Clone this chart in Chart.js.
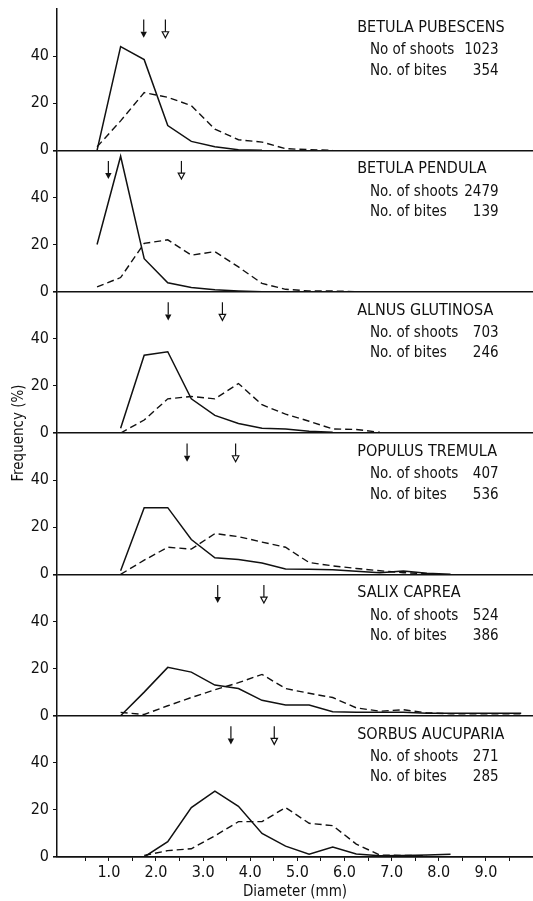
<!DOCTYPE html>
<html>
<head>
<meta charset="utf-8">
<script src="https://cdn.jsdelivr.net/npm/chart.js@4.4.0/dist/chart.umd.min.js"></script>
<style>
  body { margin: 0; background: #fff; }
  #wrap { width: 533px; height: 901px; }
</style>
</head>
<body>
<div id="wrap"><canvas id="chart" width="533" height="901"></canvas></div>
<script>
// class midpoints (mm)
const diameterMid = [0.75, 1.25, 1.75, 2.25, 2.75, 3.25, 3.75, 4.25, 4.75, 5.25,
                     5.75, 6.25, 6.75, 7.25, 7.75, 8.25, 8.75, 9.25, 9.75];

const species = ['BETULA PUBESCENS', 'BETULA PENDULA', 'ALNUS GLUTINOSA',
                 'POPULUS TREMULA', 'SALIX CAPREA', 'SORBUS AUCUPARIA'];
const shootLabels = ['No of shoots', 'No. of shoots', 'No. of shoots',
                     'No. of shoots', 'No. of shoots', 'No. of shoots'];
const nShoots = [1023, 2479, 703, 407, 524, 271];
const nBites = [354, 139, 246, 536, 386, 285];

// mean diameters (arrows)
const meanShoots = [1.74, 0.99, 2.26, 2.66, 3.31, 3.59];
const meanBites = [2.20, 2.54, 3.41, 3.69, 4.29, 4.51];

// frequency (%) per class, solid line = shoots, dashed line = bites
const shoots1 = [0, 44, 38.5, 10.5, 3.8, 1.5, 0.3, 0];
const bites1  = [1.5, 12.5, 24.5, 22.5, 19, 9, 4.5, 3.5, 0.7, 0.3, 0];
const shoots2 = [20, 57.5, 14, 3.8, 1.8, 0.8, 0.3, 0];
const bites2  = [2, 6, 20.5, 22, 15.5, 17, 10.5, 3.5, 1, 0.3, 0.3, 0];
const shoots3 = [null, 2, 33, 34.5, 14.5, 7.5, 4, 2, 1.7, 0.7, 0.3];
const bites3  = [null, 0, 5.5, 14.5, 15.5, 14.5, 21, 12, 8, 5, 1.7, 1.5, 0.3];
const shoots4 = [null, 1.5, 28.3, 28.3, 14.8, 7, 6.3, 4.8, 2.3, 2.2, 1.9, 1.3, 0.7, 1.4, 0.5, 0];
const bites4  = [null, 0, 6, 11.5, 10.7, 17.3, 16, 13.7, 11.5, 5, 3.6, 2.5, 1.5, 0.7, 0.3];
const shoots5 = [null, 0, 10, 20.5, 18.5, 13, 11.5, 6.5, 4.5, 4.5, 1.7, 1.4, 1.4, 1.5, 1, 1, 1, 1, 1];
const bites5  = [null, 1.4, 0.5, 4.2, 7.7, 11, 14, 17.5, 11.5, 9.5, 7.7, 3.3, 1.9, 2.5, 1.2, 0.8, 0.8, 0.8, 0.8];
const shoots6 = [null, null, 0, 6.5, 21, 28, 21.5, 10, 4.6, 1.2, 4.2, 1.3, 0.5, 0.6, 0.8, 1.2];
const bites6  = [null, null, 0.7, 2.7, 3.5, 9, 15, 15, 21, 14.3, 13.3, 5.5, 0.8, 0.7, 0.5];

const shootSeries = [shoots1, shoots2, shoots3, shoots4, shoots5, shoots6];
const biteSeries = [bites1, bites2, bites3, bites4, bites5, bites6];

const yTickLabels = [0, 20, 40];
const xTickValues = [0.5, 1, 1.5, 2, 2.5, 3, 3.5, 4, 4.5, 5, 5.5, 6, 6.5, 7, 7.5, 8, 8.5, 9, 9.5];
const xTickLabels = [1, 2, 3, 4, 5, 6, 7, 8, 9];

const FONT = "'Liberation Sans Narrow', 'DejaVu Sans Condensed', 'Arial Narrow', sans-serif";
const INK = '#111';
Chart.defaults.font.family = FONT;
Chart.defaults.color = INK;

function toPoints(values) {
    return values.map((v, i) => ({ x: diameterMid[i], y: v })).filter(p => p.y !== null);
}

const datasets = [];
for (let k = 0; k < 6; k++) {
    datasets.push({
        data: toPoints(shootSeries[k]),
        yAxisID: 'y' + (k + 1),
        borderColor: INK,
        borderWidth: 1.5,
        pointRadius: 0,
        fill: false,
        tension: 0
    });
    datasets.push({
        data: toPoints(biteSeries[k]),
        yAxisID: 'y' + (k + 1),
        borderColor: INK,
        borderWidth: 1.4,
        borderDash: [7, 4],
        pointRadius: 0,
        fill: false,
        tension: 0
    });
}

// one stacked y axis per panel
function panelAxis(k) {
    return {
        type: 'linear',
        position: 'left',
        stack: 'panels',
        min: 0,
        max: 60,
        weight: 0,
        ticks: {
            stepSize: 10,
            padding: 4,
            font: { size: 16 },
            // no tick at the panel top (it is the zero line of the panel above)
            callback: v => v === 60 ? null : (yTickLabels.includes(v) ? String(v) : '')
        },
        grid: {
            drawOnChartArea: true,
            drawTicks: true,
            tickLength: 4,
            tickColor: INK,
            color: c => c.tick.value === 0 ? INK : 'rgba(0,0,0,0)',
            lineWidth: c => c.tick.value === 0 ? 1.6 : 1
        },
        border: { display: true, color: INK, width: 1.5 },
        afterFit: s => { s.width = 31; s.paddingTop = 0; s.paddingBottom = 0; }
    };
}

const scales = {
    x: {
        type: 'linear',
        position: 'bottom',
        min: -0.1,
        max: 10,
        afterBuildTicks: s => { s.ticks = xTickValues.map(v => ({ value: v })); },
        ticks: {
            autoSkip: false,
            maxRotation: 0,
            padding: 2,
            font: { size: 16 },
            callback: v => xTickLabels.includes(v) ? v.toFixed(1) : ''
        },
        grid: { drawOnChartArea: false, drawTicks: true, tickLength: 4, color: INK },
        border: { display: true, color: INK, width: 1.5 },
        title: { display: true, text: 'Diameter (mm)', font: { size: 15 }, padding: { top: 0, bottom: 0 } },
        afterFit: s => { s.height = 44; s.paddingLeft = 0; s.paddingRight = 0; }
    }
};
// defined bottom-up: later left boxes are placed on top of the stack
for (let k = 6; k >= 1; k--) scales['y' + k] = panelAxis(k);
scales.yTitle = {
    type: 'linear',
    position: 'left',
    weight: 10,
    min: 0,
    max: 1,
    ticks: { display: false },
    grid: { display: false },
    border: { display: false },
    title: { display: true, text: 'Frequency (%)', font: { size: 15 }, padding: { top: 10, bottom: 0 } },
    afterFit: s => { s.width = 26; s.paddingTop = 0; s.paddingBottom = 0; }
};

function drawArrow(ctx, x, yTop, yTip, filled) {
    const headH = 6, headW = 3.2;
    ctx.beginPath();
    ctx.moveTo(x, yTop);
    ctx.lineTo(x, yTip - headH);
    ctx.stroke();
    ctx.beginPath();
    ctx.moveTo(x - headW, yTip - headH);
    ctx.lineTo(x + headW, yTip - headH);
    ctx.lineTo(x, yTip);
    ctx.closePath();
    if (filled) ctx.fill(); else ctx.stroke();
}

const panelNotes = {
    id: 'panelNotes',
    afterDatasetsDraw(chart) {
        const ctx = chart.ctx;
        const xs = chart.scales.x;
        ctx.save();
        ctx.strokeStyle = INK;
        ctx.fillStyle = INK;
        ctx.lineWidth = 1.2;
        for (let k = 0; k < 6; k++) {
            const ys = chart.scales['y' + (k + 1)];
            const yTop = ys.getPixelForValue(55.5);
            const yTip = ys.getPixelForValue(47.8);
            drawArrow(ctx, xs.getPixelForValue(meanShoots[k]), yTop, yTip, true);
            drawArrow(ctx, xs.getPixelForValue(meanBites[k]), yTop, yTip, false);

            ctx.textBaseline = 'middle';
            ctx.textAlign = 'left';
            ctx.font = '16px ' + FONT;
            ctx.fillText(species[k], xs.getPixelForValue(6.27), ys.getPixelForValue(52));
            ctx.font = '15px ' + FONT;
            ctx.fillText(shootLabels[k], xs.getPixelForValue(6.54), ys.getPixelForValue(42.4));
            ctx.fillText('No. of bites', xs.getPixelForValue(6.54), ys.getPixelForValue(33.8));
            ctx.textAlign = 'right';
            ctx.fillText(String(nShoots[k]), xs.getPixelForValue(9.27), ys.getPixelForValue(42.4));
            ctx.fillText(String(nBites[k]), xs.getPixelForValue(9.27), ys.getPixelForValue(33.8));
        }
        ctx.restore();
    }
};

new Chart(document.getElementById('chart'), {
    type: 'line',
    data: { datasets: datasets },
    options: {
        responsive: false,
        animation: false,
        devicePixelRatio: 1,
        layout: { padding: { top: 9, right: 0, bottom: 0, left: 0 } },
        plugins: { legend: { display: false }, tooltip: { enabled: false } },
        scales: scales
    },
    plugins: [panelNotes]
});
</script>
</body>
</html>
